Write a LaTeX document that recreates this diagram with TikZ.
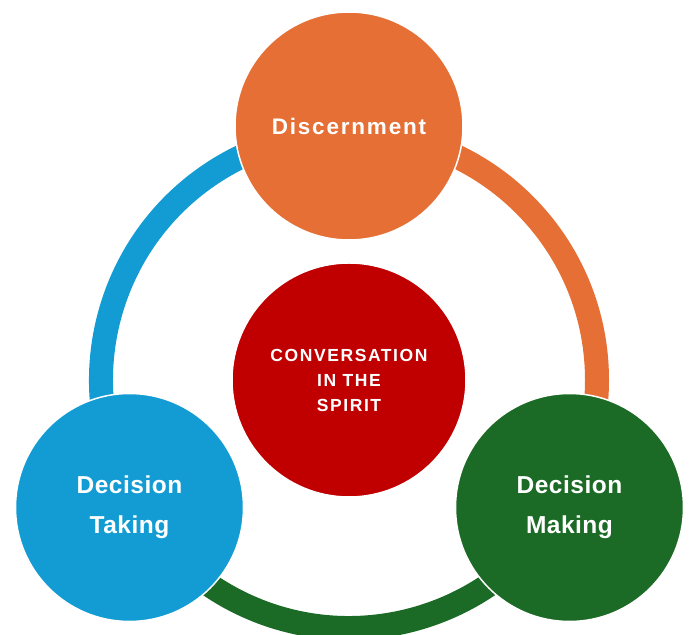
\documentclass[tikz,border=0pt]{standalone}
\usepackage{fontspec}
\setsansfont{Liberation Sans}
\newfontfamily\discfont{Liberation Sans}[LetterSpace=8]
\newfontfamily\convfont{Liberation Sans}[LetterSpace=9]
\newfontfamily\decfont{Liberation Sans}[LetterSpace=2]
\usepackage{tikz}
\usetikzlibrary{positioning}
\pgfdeclarelayer{nodelayer}
\pgfdeclarelayer{edgelayer}
\pgfsetlayers{main,edgelayer,nodelayer}
\definecolor{discOrange}{HTML}{E56F35}
\definecolor{takeBlue}{HTML}{129CD3}
\definecolor{makeGreen}{HTML}{1B6A25}
\definecolor{spiritRed}{HTML}{C00000}
\tikzstyle{stage}=[circle, draw=white, line width=1.5pt, minimum size=228pt, inner sep=0pt, text=white, align=center, font=\sffamily\bfseries]
\tikzstyle{ring}=[line width=24pt]

\begin{document}
\begin{tikzpicture}[x=1pt, y=1pt]
        \useasboundingbox (0,0) rectangle (689,635);
        \coordinate (C) at (349,255);
        \begin{pgfonlayer}{nodelayer}
            \node [style=stage, fill=spiritRed, minimum size=234pt, font=\convfont\bfseries\fontsize{17.5}{25}\selectfont] (Conv) at (C) {CONVERSATION\\IN THE\\SPIRIT};
            \node [style=stage, fill=discOrange, font=\discfont\bfseries\fontsize{22.5}{30}\selectfont] (Disc) at (349,509) {Discernment};
            \node [style=stage, fill=takeBlue, font=\decfont\bfseries\fontsize{24.5}{40}\selectfont] (Take) at (129.5,127.5) {Decision\\Taking};
            \node [style=stage, fill=makeGreen, font=\decfont\bfseries\fontsize{24.5}{40}\selectfont] (Make) at (569.5,127.5) {Decision\\Making};
        \end{pgfonlayer}
        \begin{pgfonlayer}{edgelayer}
                % Disc -> Make -> Take -> Disc
                \draw [style=ring, discOrange] (C) ++(90:248) arc[start angle=90, end angle=-30, radius=248];
                \draw [style=ring, makeGreen] (C) ++(-30:248) arc[start angle=-30, end angle=-150, radius=248];
                \draw [style=ring, takeBlue] (C) ++(210:248) arc[start angle=210, end angle=90, radius=248];
        \end{pgfonlayer}
    \end{tikzpicture}
\end{document}
